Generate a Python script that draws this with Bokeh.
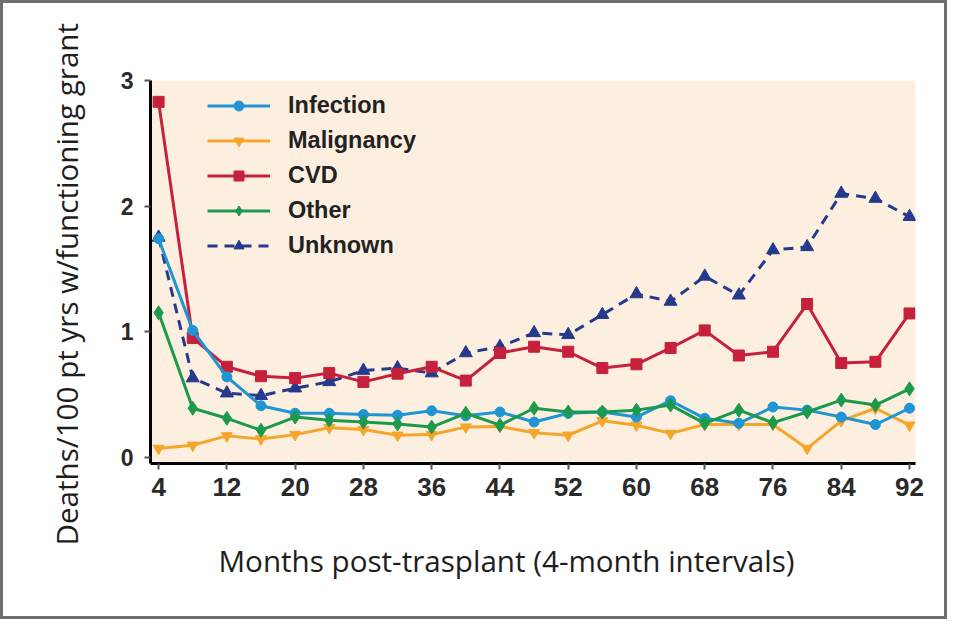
from bokeh.plotting import figure
from bokeh.models import Legend, LegendItem, FixedTicker, Range1d, ColumnDataSource, Title
from bokeh.embed import file_html
from bokeh.resources import INLINE

months = [4, 8, 12, 16, 20, 24, 28, 32, 36, 40, 44, 48, 52, 56, 60, 64, 68, 72, 76, 80, 84, 88, 92]
infection = [1.74, 1.01, 0.64, 0.41, 0.35, 0.35, 0.34, 0.335, 0.37, 0.33, 0.36, 0.28, 0.35, 0.36, 0.32, 0.45, 0.31, 0.27, 0.40, 0.375, 0.32, 0.26, 0.39]
malignancy = [0.07, 0.095, 0.17, 0.145, 0.18, 0.235, 0.22, 0.175, 0.18, 0.24, 0.245, 0.195, 0.175, 0.29, 0.255, 0.19, 0.26, 0.26, 0.26, 0.07, 0.29, 0.39, 0.255]
cvd = [2.83, 0.95, 0.72, 0.645, 0.63, 0.67, 0.60, 0.665, 0.72, 0.61, 0.83, 0.88, 0.84, 0.71, 0.74, 0.87, 1.01, 0.81, 0.84, 1.22, 0.75, 0.76, 1.145]
other = [1.15, 0.39, 0.31, 0.215, 0.32, 0.295, 0.28, 0.265, 0.24, 0.35, 0.255, 0.39, 0.36, 0.36, 0.375, 0.415, 0.27, 0.375, 0.275, 0.36, 0.455, 0.415, 0.545]
unknown = [1.75, 0.63, 0.51, 0.49, 0.55, 0.60, 0.69, 0.71, 0.67, 0.83, 0.88, 0.99, 0.975, 1.135, 1.30, 1.24, 1.44, 1.29, 1.65, 1.675, 2.10, 2.06, 1.915]

x_ticks = [4, 12, 20, 28, 36, 44, 52, 60, 68, 76, 84, 92]
y_ticks = [0, 1, 2, 3]

series_names = ["Infection", "Malignancy", "CVD", "Other", "Unknown"]
x_title = "Months post-trasplant (4-month intervals)"
y_title = "Deaths/100 pt yrs w/functioning grant"

src = ColumnDataSource(dict(month=months, infection=infection, malignancy=malignancy,
                            cvd=cvd, other=other, unknown=unknown))

p = figure(width=947, height=619, output_backend="svg", toolbar_location=None,
           x_range=Range1d(3.05, 92.7), y_range=Range1d(-0.05, 3.0),
           min_border_left=147, min_border_top=77, min_border_right=35, min_border_bottom=159)
p.styles = {"border": "3px solid #707070"}
p.background_fill_color = "#fcefe0"
p.border_fill_color = "white"
p.outline_line_color = None
p.grid.visible = False

for ax in (p.xaxis[0], p.yaxis[0]):
    ax.axis_line_color = "black"
    ax.axis_line_width = 3
    ax.major_tick_line_color = "#555555"
    ax.major_tick_line_width = 2
    ax.major_tick_in = 0
    ax.major_tick_out = 6
    ax.minor_tick_line_color = None
    ax.major_label_text_font = "Liberation Sans"
    ax.major_label_text_font_style = "bold"
    ax.major_label_text_color = "#2a2a2a"

p.xaxis.ticker = FixedTicker(ticks=x_ticks)
p.yaxis.ticker = FixedTicker(ticks=y_ticks)
p.xaxis.major_label_text_font_size = "26px"
p.yaxis.major_label_text_font_size = "23px"
p.xaxis.major_label_standoff = 8
p.yaxis.major_label_standoff = 11

p.add_layout(Title(text=x_title, align="left", offset=68, standoff=78,
                   text_font="Open Sans", text_font_size="29.6px", text_font_style="normal",
                   text_color="#1e1e1e"), "below")
p.add_layout(Title(text=y_title, align="left", offset=-82, standoff=62,
                   text_font="Open Sans", text_font_size="29.6px", text_font_style="normal",
                   text_color="#1e1e1e"), "left")

colors = {"Infection": "#1f95d3", "Malignancy": "#f4a62a", "CVD": "#c6203d",
          "Other": "#1b9a4c", "Unknown": "#25398d"}

r = {}
r["Unknown"] = (p.line("month", "unknown", source=src, line_color=colors["Unknown"], line_width=3, line_dash="10 7"),
                p.scatter("month", "unknown", source=src, marker="triangle", size=13, color=colors["Unknown"]))
r["CVD"] = (p.line("month", "cvd", source=src, line_color=colors["CVD"], line_width=3),
            p.scatter("month", "cvd", source=src, marker="square", size=11, color=colors["CVD"]))
r["Malignancy"] = (p.line("month", "malignancy", source=src, line_color=colors["Malignancy"], line_width=3),
                   p.scatter("month", "malignancy", source=src, marker="inverted_triangle", size=11, color=colors["Malignancy"]))
r["Infection"] = (p.line("month", "infection", source=src, line_color=colors["Infection"], line_width=3),
                  p.scatter("month", "infection", source=src, marker="circle", size=10, color=colors["Infection"]))
r["Other"] = (p.line("month", "other", source=src, line_color=colors["Other"], line_width=3),
              p.scatter("month", "other", source=src, marker="diamond", size=14, color=colors["Other"]))

items = [LegendItem(label=n, renderers=list(r[n])) for n in series_names]
legend = Legend(items=items, location=(57, 204), glyph_width=63, glyph_height=25,
                label_height=25, spacing=8, label_standoff=18, padding=0, margin=0,
                border_line_color=None, background_fill_alpha=0,
                label_text_font="Liberation Sans", label_text_font_style="bold",
                label_text_font_size="23.5px", label_text_color="#222222")
p.add_layout(legend)

open("out.html", "w").write(file_html(p, INLINE))
